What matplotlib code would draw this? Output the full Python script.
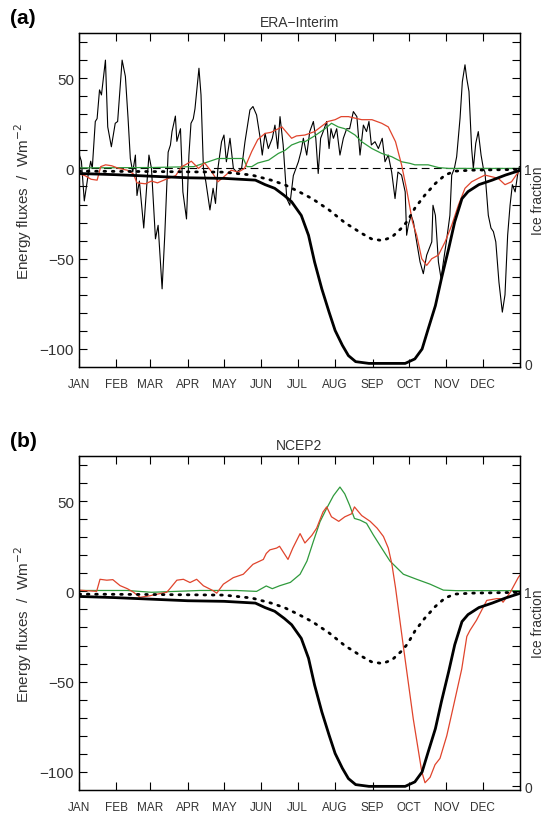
import numpy as np
import matplotlib
matplotlib.use('Agg')
import matplotlib.pyplot as plt
from matplotlib.ticker import FixedLocator, NullFormatter

plt.rcParams['font.family'] = ['Liberation Sans', 'DejaVu Sans']

# month start days (x axis in day of year)
MONTH_DAYS = [0, 31, 59, 90, 120, 151, 181, 212, 243, 273, 304, 334]
MONTHS = ['JAN', 'FEB', 'MAR', 'APR', 'MAY', 'JUN',
          'JUL', 'AUG', 'SEP', 'OCT', 'NOV', 'DEC']

# ERA-Interim net flux (thin black), W m-2
era_net_day = [0, 2, 4.4, 7.5, 9.7, 11, 13.5, 15, 17, 18.6, 21.9, 23.8, 26.8, 30, 32,
               35.7, 38.4, 40.6, 42.5, 44.5, 46.7, 48, 50, 53.6, 57.9, 60, 63.3, 65.5,
               68.8, 71, 73.8, 75.7, 77, 79.8, 81, 84, 86, 89, 91, 92.7, 94.6, 96, 99.3,
               101, 103, 105, 108.4, 111, 113, 115, 118, 120, 122, 125, 127.8, 130.5,
               134.6, 137.4, 141.5, 144, 147, 150, 151.7, 154, 156.7, 160, 162.2, 164.5,
               166.4, 169, 172, 174.5, 177.4, 181.6, 183.8, 185.7, 188.5, 191, 194, 196,
               198, 200, 203, 205, 207, 208.6, 210.6, 213.3, 216, 218.8, 221.6, 224,
               227.1, 230, 232.6, 235.4, 238, 240, 242, 245, 247.8, 251, 253.3, 256,
               258.8, 261.6, 264, 267, 270, 271.2, 272.6, 274.9, 276.8, 279.5, 282.3,
               285, 287.8, 292, 293, 295, 297.5, 299.7, 301.6, 304.4, 307, 308.5, 310.7,
               312.6, 315.4, 317.3, 319.5, 320.9, 322.8, 325, 326.4, 328.4, 330.5, 332.8,
               334.7, 336, 338.8, 341, 343, 345, 347.6, 350.4, 352.6, 354.8, 356.8, 358.7,
               361, 363, 364.5]
era_net_val = [8, 4, -18, -4, 4, 0, 26, 27.6, 43.5, 40.7, 60, 23, 12, 25, 26,
               60, 51, 28, 5.5, -2, 7.4, -15, -7, -33, 7.4, 0, -39, -31.5,
               -66.7, -37, 9, 13, 20.4, 29, 15, 22, -13, -28, 7.4, 25, 27.5, 33, 55.5,
               40.7, 0, -7.4, -23, -11, -19.4, 0, 14.8, 18.5, 3.7, 16.7, 0, -2,
               0, 14.8, 32.4, 34.3, 29.6, 16.7, 7.4, 19.4, 11, 16.7, 24, 11,
               28.7, 13, -16.7, -20.4, -4, 3.7, 9.4, 16.7, 7.4, 20.4, 26, 16.7,
               -2.8, 16.7, 22, 26, 11, 22, 16.7, 22, 7.4, 16.7, 22, 22,
               31.5, 28.7, 7.4, 24, 20.4, 26, 13, 14.8, 11, 16.7, 3.7, 7.4,
               -2, -16.7, -2, -3.7, -13, -37, -31.5, -26, -29.6, -40.7, -51.8,
               -58.3, -48, -40.7, -20.4, -26, -51.8, -61, -51.8, -39, -26, -3.7, 0,
               6.5, 27.8, 48, 57.4, 50, 42.6, 11, 0, 13.9, 20.4, 7.4,
               0, -2, -26, -33, -35, -40.7, -63, -79.6, -70, -37, -20.4, -9,
               -13, -3.7, 1]

# ERA-Interim red flux
era_red_day = [0, 5, 10, 15, 18, 22, 27, 33, 40, 45, 48, 55, 60, 65, 72, 80, 85, 88, 93,
               99, 104, 110, 115, 121, 126, 132, 137, 143, 148, 154, 159, 165, 168, 170.5,
               176, 180, 187, 195, 206, 212, 217, 223, 234, 242.5, 250.6, 256, 262, 267,
               271, 274, 276, 279.5, 283.7, 287.8, 292, 297.5, 303, 308.5, 314, 319.5,
               325, 330.5, 336, 341.6, 347, 352.6, 358, 363.6, 365]
era_red_val = [-3, -4, -6, -6.5, 1, 2, 1.5, 0, -1, -3, -8, -8.5, -7, -8, -6, -4, 1, 2, 4,
               0, 3, -2, -7.4, -4, -1, -2, 0, 9.4, 16, 19.4, 20, 22, 23, 21,
               16.7, 18, 18.5, 20.4, 26, 27, 28.7, 28.7, 27, 27, 25, 23, 14.8, 2,
               -11, -22, -29.6, -37, -50, -53.7, -50, -48, -40.7, -31.5, -20.4, -11,
               -7.4, -5.5, -3.7, -4.6, -5.5, -9, -7.4, -2, -1]

# ERA-Interim green flux
era_grn_day = [0, 60, 95, 104, 115, 126, 136, 139, 143, 148, 157, 165, 170.5, 176, 183,
               187, 195, 203.6, 209, 214.6, 220, 228.5, 234, 242.5, 250.6, 258.8, 267,
               274, 278, 289, 297.5, 306, 365]
era_grn_val = [0.3, 0.5, 1, 3, 5.5, 5.5, 5.5, 1, 1, 3, 4.6, 8.3, 10, 13, 14.8,
               14.8, 18, 22, 25, 23, 22, 18.5, 14.8, 11, 8.3, 6.5, 3.7,
               2.8, 2, 2, 0.5, 0, 0]

# NCEP2 red flux
ncep_red_day = [0, 14.6, 17.4, 23, 28, 34, 40, 45, 50.5, 58.8, 65, 72.6, 75, 81, 86.4,
                91.9, 97.4, 103, 111, 114, 119.5, 127.7, 136, 144, 152.6, 155, 158, 163.6,
                166, 173, 177, 183, 187, 192.7, 196.7, 202, 205, 209, 215, 220, 225.7,
                228, 234, 241, 246.8, 252, 256, 259, 262, 268.5, 276.7, 283.7, 286.4,
                290.6, 294.7, 298.8, 304.4, 310, 316.8, 321, 323.7, 329, 337.5, 345.8,
                348.6, 351, 357, 363.6, 365]
ncep_red_val = [0.7, 0, 6.7, 6.2, 6.5, 3.2, 1.5, -0.4, -3.3, -2.4, -1.5, -0.5, 1.3, 6.2, 6.7,
                4.9, 6.7, 3.1, 0.4, -1, 4, 7.6, 9.5, 15, 17.7, 21, 23, 24,
                25, 17.7, 24, 32, 26.8, 31, 35, 44, 46.8, 41.3, 38.8, 41.3, 43,
                46.8, 42, 38.8, 35, 30.4, 24, 15, 2, -30.6, -70.7, -99.8, -106,
                -103, -96, -92.5, -80, -63.4, -43, -25, -21.5, -16, -5, -4,
                -4, -6, -0.5, 7.7, 9]

# NCEP2 green flux
ncep_grn_day = [0, 40, 60, 100, 130, 147, 155, 160, 166, 175, 183, 188.7, 194, 199.5, 205,
                210.6, 216, 220, 224, 228, 232.6, 238, 243.6, 250.5, 257.4, 268.5, 279.5,
                290.6, 301.6, 312.6, 365]
ncep_grn_val = [0.5, 0.5, -0.5, 0.5, 0.5, 0, 3, 1.5, 3.1, 5, 9.5, 16.8, 27.7, 38.6, 46,
                53, 57.8, 54, 47.7, 40.4, 39.5, 37.7, 31.3, 24, 16.8, 9.5, 6.7,
                4, 0.7, 0.4, 0.4]

# ice fraction (thick black)
ice_day = [0, 30, 60, 90, 120, 146, 154, 162, 170, 176, 184, 190, 195, 201, 207, 212, 218,
           223, 229, 240, 270, 278, 284, 289, 295, 300, 306, 311, 317, 322, 331, 342, 353, 365]
ice_val = [0.974, 0.968, 0.96, 0.952, 0.949, 0.94, 0.917, 0.898, 0.861, 0.829, 0.759, 0.657,
           0.52, 0.382, 0.263, 0.169, 0.093, 0.04, 0.009, 0.0, 0.0, 0.023, 0.074, 0.176,
           0.296, 0.435, 0.589, 0.726, 0.845, 0.881, 0.917, 0.94, 0.966, 0.99]

# second ice fraction (dotted)
dot_day = [0, 60, 120, 143, 159, 170, 181, 193, 207, 220, 234, 242, 251, 259, 267, 272, 278,
           286, 295, 303, 311, 325, 365]
dot_val = [0.986, 0.984, 0.981, 0.966, 0.94, 0.917, 0.884, 0.845, 0.787, 0.722, 0.667, 0.639,
           0.63, 0.648, 0.694, 0.731, 0.796, 0.861, 0.923, 0.966, 0.986, 0.991, 0.995]

YMIN, YMAX = -110, 75
ICE_SCALE = 108.0   # W m-2 per unit ice fraction on the right axis
RED = '#e0442c'
GREEN = '#2f9a3c'
TXT = '#333333'

fig = plt.figure(figsize=(5.5, 8.2), dpi=100)


def panel(rect, letter, title, black=None, red=None, green=None, dashed=False):
    ax = fig.add_axes(rect)
    if dashed:
        ax.axhline(0, color='black', lw=0.8, dashes=(7, 4))
    if black is not None:
        ax.plot(black[0], black[1], color='black', lw=0.8)
    ax.plot(green[0], green[1], color=GREEN, lw=0.9)
    ax.plot(red[0], red[1], color=RED, lw=0.9)
    ax.set_xlim(0, 365)
    ax.set_ylim(YMIN, YMAX)
    ax.set_xticks(MONTH_DAYS)
    ax.set_xticklabels(MONTHS, fontsize=8.5, color=TXT)
    ax.set_yticks([-100, -50, 0, 50])
    ax.set_yticklabels(['\u2212100', '\u221250', '0', '50'], fontsize=11, color=TXT)
    ax.yaxis.set_minor_locator(FixedLocator(np.arange(-100, 71, 10)))
    ax.tick_params(axis='x', direction='in', top=True, length=6, width=0.8, pad=8)
    ax.tick_params(axis='y', which='both', direction='in', length=6, width=0.8)
    ax.set_ylabel('Energy fluxes  /  Wm$^{-2}$', fontsize=11, labelpad=4, color=TXT)

    ax2 = ax.twinx()
    ax2.set_ylim(1 + YMIN / ICE_SCALE, 1 + YMAX / ICE_SCALE)
    ax2.plot(dot_day, dot_val, color='black', lw=2.0, linestyle=(0, (0.6, 2.4)),
             dash_capstyle='round')
    ax2.plot(ice_day, ice_val, color='black', lw=2.0)
    ax2.set_yticks([0, 1])
    ax2.set_yticklabels(['0', '1'], fontsize=10, color=TXT)
    minor = [1 + w / ICE_SCALE for w in range(-100, 71, 10) if w != 0]
    ax2.yaxis.set_minor_locator(FixedLocator(minor))
    ax2.yaxis.set_minor_formatter(NullFormatter())
    ax2.tick_params(axis='y', which='both', direction='in', length=6, width=0.8, pad=3)

    for a in (ax, ax2):
        for s in a.spines.values():
            s.set_linewidth(0.9)

    ax.set_title(title, fontsize=10, pad=5, color=TXT)
    fig.text(0.018, rect[1] + rect[3] + 0.012, letter, fontsize=15, fontweight='bold')
    fig.text(538 / 550, rect[1] + rect[3] / 2, 'Ice fraction', rotation=90,
             ha='center', va='center', fontsize=10, color=TXT)
    return ax


panel([0.1436, 0.5512, 0.8018, 0.4073], '(a)', 'ERA\u2212Interim',
      black=(era_net_day, era_net_val), red=(era_red_day, era_red_val),
      green=(era_grn_day, era_grn_val), dashed=True)
panel([0.1436, 0.0354, 0.8018, 0.4073], '(b)', 'NCEP2',
      red=(ncep_red_day, ncep_red_val), green=(ncep_grn_day, ncep_grn_val))

fig.savefig('out.png', dpi=100)
